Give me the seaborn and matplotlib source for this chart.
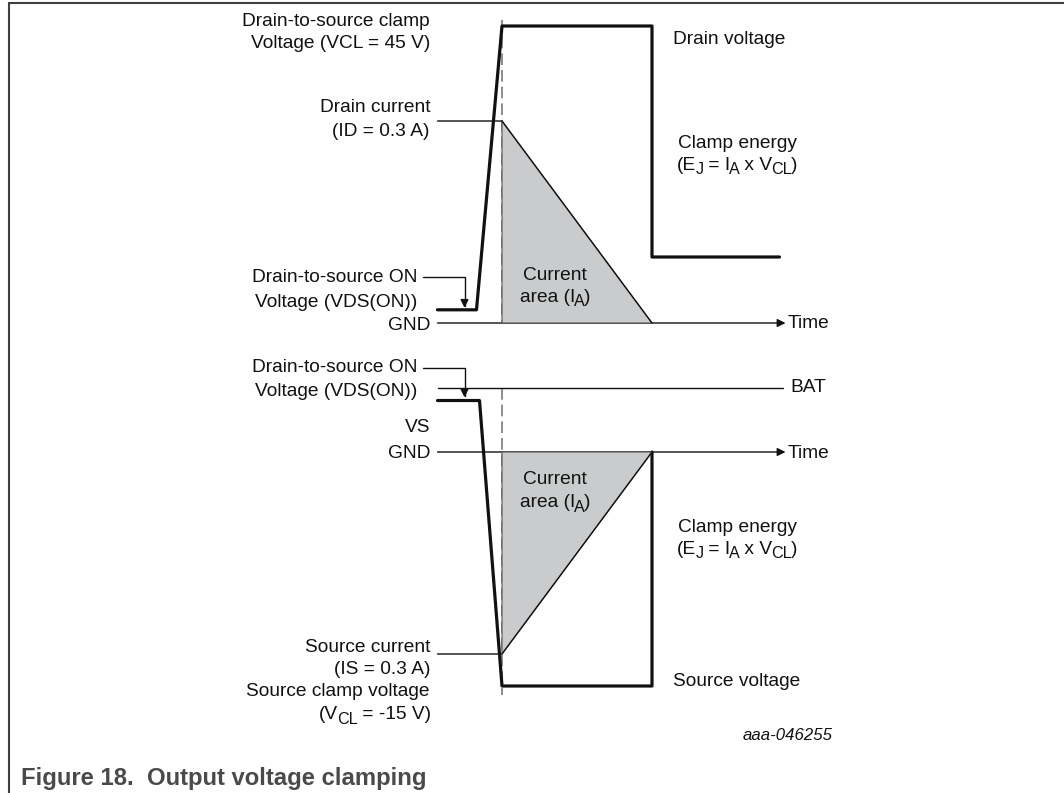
"""
Output voltage clamping timing diagram (drain side on top, source side below).
Waveforms are drawn in time / volt / ampere units on transparent axes that are
laid over the whole figure, so the pixel layout matches the datasheet figure.
"""

import matplotlib
matplotlib.use("Agg")
import matplotlib.pyplot as plt
from matplotlib.lines import Line2D
import seaborn as sns

W, H = 1064, 793

# --- waveform data (time in clamp-durations, t=0 at turn-off) ---
drain_t = [-0.43, -0.17, 0.0, 1.0, 1.0, 1.85]
drain_v = [2.0, 2.0, 45.0, 45.0, 10.0, 10.0]          # V, clamp VCL = 45 V
drain_i_t = [-0.43, 0.0, 1.0]
drain_i_a = [0.3, 0.3, 0.0]                           # A, ID = 0.3 A

source_t = [-0.43, -0.15, 0.0, 1.0, 1.0]
source_v = [3.3, 3.3, -15.0, -15.0, 0.0]              # V, clamp VCL = -15 V
source_i_t = [-0.43, 0.0, 1.0]
source_i_a = [-0.3, -0.3, 0.0]                        # A, IS = 0.3 A

bat_v = 4.1
time_axis_t = [-0.43, 1.89]
bat_t = [-0.43, 1.87]
marker_top_v = [45.9, 0.0]
marker_bot_v = [bat_v, -15.6]

# VDS(ON) call-outs: (start t, start level) -> (tip t, tip level)
vds_top = ((-0.53, 7.0), (-0.25, 2.3))
vds_bot = ((-0.53, 5.4), (-0.25, 3.5))

sns.set_style("white")
plt.rcParams["font.family"] = ["Liberation Sans", "DejaVu Sans"]

INK = "#111111"
FILL = "#c9cbcc"
DASH = "#7a7a7a"
THICK = 2.3
THIN = 1.0
FS = 13.8

fig = plt.figure(figsize=(W / 100, H / 100), dpi=100)


def overlay(label, zero_px, px_per_unit):
    ax = fig.add_axes([0, 0, 1, 1], label=label)
    ax.set_xlim((0 - 502) / 150, (W - 502) / 150)
    ax.set_ylim((zero_px - H) / px_per_unit, zero_px / px_per_unit)
    ax.axis("off")
    ax.patch.set_visible(False)
    return ax


def twin(ax, label, zero_px, px_per_unit):
    ax2 = fig.add_axes([0, 0, 1, 1], label=label, sharex=ax)
    ax2.set_ylim((zero_px - H) / px_per_unit, zero_px / px_per_unit)
    ax2.axis("off")
    ax2.patch.set_visible(False)
    return ax2


def axis_arrow(ax, t, level):
    ax.annotate("", xy=(t[1], level), xytext=(t[0], level),
                arrowprops=dict(arrowstyle="-|>", color=INK, lw=THIN,
                                mutation_scale=12, shrinkA=0, shrinkB=0))


def callout(ax, pts):
    (t0, v0), (t1, v1) = pts
    ax.annotate("", xy=(t1, v1), xytext=(t0, v0),
                arrowprops=dict(arrowstyle="-|>", color=INK, lw=THIN,
                                mutation_scale=12, shrinkA=0, shrinkB=0,
                                connectionstyle="angle,angleA=0,angleB=90,rad=0"))


def line(ax, x, y, lw, color=INK, **kw):
    sns.lineplot(x=x, y=y, ax=ax, sort=False, estimator=None,
                 color=color, lw=lw, **kw)


# ---------- top panel: drain ----------
ax_dv = overlay("drain_v", 323, (323 - 26) / 45)
ax_di = twin(ax_dv, "drain_i", 323, (323 - 121) / 0.3)

ax_di.fill([drain_i_t[1], drain_i_t[1], drain_i_t[2]],
           [0, drain_i_a[1], drain_i_a[2]], color=FILL, ec="#555555", lw=0.8, zorder=1)
line(ax_di, drain_i_t, drain_i_a, THIN)
line(ax_dv, [0, 0], marker_top_v, 1.2, color=DASH, linestyle=(0, (7, 3)), zorder=0)
axis_arrow(ax_dv, time_axis_t, 0)
callout(ax_dv, vds_top)
line(ax_dv, drain_t, drain_v, THICK)

# ---------- bottom panel: source ----------
ax_sv = overlay("source_v", 452, (686 - 452) / 15)
ax_si = twin(ax_sv, "source_i", 452, (654 - 452) / 0.3)

ax_si.fill([source_i_t[1], source_i_t[2], source_i_t[1]],
           [0, 0, source_i_a[1]], color=FILL, ec="#555555", lw=0.8, zorder=1)
line(ax_si, source_i_t, source_i_a, THIN)
line(ax_sv, [0, 0], marker_bot_v, 1.2, color=DASH, linestyle=(0, (7, 3)), zorder=0)
line(ax_sv, bat_t, [bat_v, bat_v], THIN)
axis_arrow(ax_sv, time_axis_t, 0)
callout(ax_sv, vds_bot)
line(ax_sv, source_t, source_v, THICK)


# ---------- labels (figure pixel positions) ----------
def label(x, y, s, ha="right", **kw):
    kw.setdefault("fontsize", FS)
    kw.setdefault("color", INK)
    fig.text(x / W, 1 - y / H, s, ha=ha, va="center", **kw)


def rich_label(x, y, parts, ha="center"):
    # text with near full-size, lowered subscripts; parts = [(text, is_sub)]
    renderer = fig.canvas.get_renderer()
    texts = [fig.text(0, 0, s, fontsize=FS * (0.84 if sub else 1.0), color=INK,
                      ha="left", va="baseline") for s, sub in parts]
    widths = [t.get_window_extent(renderer).width - 0.8 for t in texts]
    total = sum(widths)
    x0 = {"center": x - total / 2, "right": x - total, "left": x}[ha]
    base = y + 5
    for t, (s, sub), w in zip(texts, parts, widths):
        t.set_position((x0 / W, 1 - (base + (4.5 if sub else 0)) / H))
        x0 += w


ENERGY = [("(E", False), ("J", True), (" = I", False), ("A", True),
          (" x V", False), ("CL", True), (")", False)]
AREA = [("area (I", False), ("A", True), (")", False)]

label(430, 21, "Drain-to-source clamp")
label(430, 44, "Voltage (VCL = 45 V)")
label(430, 108, "Drain current")
label(430, 132, "(ID = 0.3 A)")
label(417, 278, "Drain-to-source ON")
label(417, 302, "Voltage (VDS(ON))")
label(430, 325, "GND")
label(673, 40, "Drain voltage", ha="left")
label(737, 143, "Clamp energy", ha="center")
rich_label(737, 165, ENERGY)
label(555, 275, "Current", ha="center")
rich_label(555, 297, AREA)
label(788, 324, "Time", ha="left")

label(417, 368, "Drain-to-source ON")
label(417, 391, "Voltage (VDS(ON))")
label(790, 388, "BAT", ha="left")
label(430, 428, "VS")
label(430, 453, "GND")
label(788, 453, "Time", ha="left")
label(555, 480, "Current", ha="center")
rich_label(555, 502, AREA)
label(737, 527, "Clamp energy", ha="center")
rich_label(737, 549, ENERGY)
label(430, 647, "Source current")
label(430, 670, "(IS = 0.3 A)")
label(430, 692, "Source clamp voltage")
rich_label(430, 714, [("(V", False), ("CL", True), (" = -15 V)", False)], ha="right")
label(673, 681, "Source voltage", ha="left")
label(833, 736, "aaa-046255", fontsize=12.1, style="italic")

label(21, 778, "Figure 18.  Output voltage clamping", ha="left",
      fontsize=17.2, fontweight="bold", color="#4a4a4a")

# figure frame: top and left rules only
fig.add_artist(Line2D([9 / W, 1], [1 - 3 / H, 1 - 3 / H],
                      transform=fig.transFigure, color="#3f3f3f", lw=1.5))
fig.add_artist(Line2D([9 / W, 9 / W], [1 - 3 / H, 0],
                      transform=fig.transFigure, color="#3f3f3f", lw=1.5))

fig.savefig("out.png", dpi=100, facecolor="white")
plt.close(fig)
